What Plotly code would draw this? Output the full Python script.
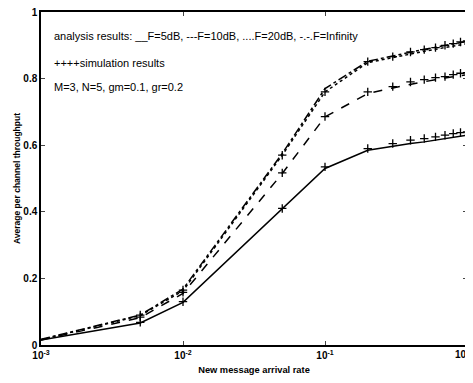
import plotly.graph_objects as go

rate = [0.001, 0.005, 0.01, 0.05, 0.1, 0.2, 0.3, 0.4, 0.5, 0.6, 0.7, 0.8, 0.9, 1.0]
ana_5db = [0.015, 0.066, 0.128, 0.41, 0.53, 0.585, 0.598, 0.605, 0.61, 0.615, 0.62, 0.623, 0.627, 0.63]
ana_10db = [0.015, 0.082, 0.155, 0.515, 0.685, 0.755, 0.772, 0.783, 0.79, 0.797, 0.802, 0.806, 0.81, 0.812]
ana_20db = [0.016, 0.088, 0.163, 0.57, 0.76, 0.848, 0.863, 0.875, 0.882, 0.888, 0.893, 0.898, 0.902, 0.905]
ana_inf = [0.017, 0.09, 0.168, 0.575, 0.77, 0.852, 0.868, 0.88, 0.888, 0.894, 0.9, 0.904, 0.908, 0.912]

sim_rate = [0.005, 0.01, 0.05, 0.1, 0.2, 0.3, 0.4, 0.5, 0.6, 0.7, 0.8, 0.9, 1.0]
sim_5db = [0.068, 0.13, 0.41, 0.535, 0.59, 0.605, 0.615, 0.62, 0.625, 0.63, 0.635, 0.638, 0.64]
sim_10db = [0.084, 0.158, 0.517, 0.686, 0.76, 0.776, 0.79, 0.797, 0.803, 0.806, 0.812, 0.816, 0.818]
sim_20db = [0.09, 0.165, 0.57, 0.76, 0.851, 0.866, 0.88, 0.887, 0.893, 0.9, 0.905, 0.91, 0.913]

x_ticks = [0.001, 0.01, 0.1, 1]
x_tick_labels = ["<b>10<sup>-3</sup></b>", "<b>10<sup>-2</sup></b>", "<b>10<sup>-1</sup></b>", "<b>10<sup>0</sup></b>"]
y_ticks = [0, 0.2, 0.4, 0.6, 0.8, 1]
y_tick_labels = ["<b>0</b>", "<b>0.2</b>", "<b>0.4</b>", "<b>0.6</b>", "<b>0.8</b>", "<b>1</b>"]

FONT = "Liberation Sans, Arial, sans-serif"
fig = go.Figure()
for ys, dash in [(ana_5db, "solid"), (ana_10db, "dash"), (ana_20db, "dot"), (ana_inf, "dashdot")]:
    fig.add_trace(go.Scatter(x=rate, y=ys, mode="lines",
                             line=dict(color="black", width=1.5, dash=dash), showlegend=False))
for ys in [sim_5db, sim_10db, sim_20db]:
    fig.add_trace(go.Scatter(x=sim_rate, y=ys, mode="markers",
                             marker=dict(symbol="cross-thin", size=6, color="black",
                                         line=dict(color="black", width=1.3)),
                             showlegend=False))

texts = [
    (0.928, "analysis results: __F=5dB, ---F=10dB, ....F=20dB, -.-.F=Infinity"),
    (0.848, "++++simulation results"),
    (0.776, "M=3, N=5, gm=0.1, gr=0.2"),
]
for yv, t in texts:
    fig.add_annotation(x=-2.92, y=yv, xref="x", yref="y", text=t, showarrow=False,
                       xanchor="left", yanchor="middle",
                       font=dict(family=FONT, size=11, color="black"))

# last x tick label drawn right-aligned so it stays inside the page
fig.add_annotation(x=1, y=0, xref="paper", yref="paper", text=x_tick_labels[-1],
                   showarrow=False, xanchor="right", yanchor="top", xshift=5, yshift=-1,
                   font=dict(family=FONT, size=10, color="black"))

# page body has an 8px default margin, so the figure is sized to fill the rest
fig.update_layout(
    width=465, height=375,
    margin=dict(l=33, r=6, t=4, b=38),
    paper_bgcolor="white", plot_bgcolor="white",
    font=dict(family=FONT, color="black"),
)
fig.update_xaxes(type="log", range=[-3, 0], tickvals=x_ticks,
                 ticktext=x_tick_labels[:-1] + [""],
                 automargin=False, ticklabeloverflow="allow",
                 ticks="inside", ticklen=4, showline=True, linecolor="black", linewidth=1.5,
                 mirror="ticks", showgrid=False, zeroline=False,
                 tickfont=dict(family=FONT, size=10, color="black"),
                 title=dict(text="<b>New message arrival rate</b>", standoff=7,
                            font=dict(family=FONT, size=9.3, color="black")))
fig.update_yaxes(range=[0, 1], tickvals=y_ticks, ticktext=y_tick_labels,
                 automargin=False, ticklabeloverflow="allow",
                 ticks="inside", ticklen=4, showline=True, linecolor="black", linewidth=1.5,
                 mirror="ticks", showgrid=False, zeroline=False,
                 tickfont=dict(family=FONT, size=10, color="black"),
                 title=dict(text="<b>Average per channel throughput</b>", standoff=1,
                            font=dict(family=FONT, size=8.5, color="black")))

fig.write_html("out.html")
